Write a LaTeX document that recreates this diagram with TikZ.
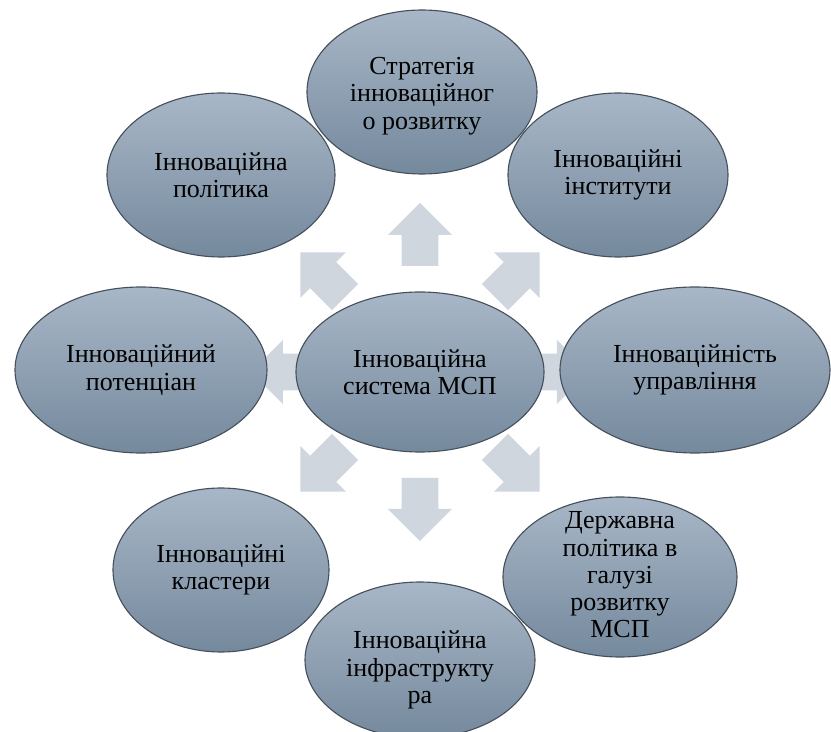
\documentclass[tikz,border=0pt]{standalone}
\usepackage{fontspec}
\setmainfont{Liberation Serif}
\usepackage{tikz}
\usetikzlibrary{shapes.geometric,positioning}
\definecolor{bubbletop}{RGB}{168,183,199}
\definecolor{bubblebot}{RGB}{117,137,157}
\definecolor{bubbleline}{RGB}{70,80,92}
\definecolor{arrowgray}{RGB}{208,214,222}
\tikzset{bubble/.style={ellipse,draw=bubbleline,line width=0.8pt,top color=bubbletop,bottom color=bubblebot,inner sep=0pt}}
\tikzset{lbl/.style={align=center,inner sep=0pt,font=\fontsize{18.5pt}{19.4pt}\selectfont}}
\tikzset{blockarrow/.style={fill=arrowgray}}

\begin{document}
\begin{tikzpicture}
% \draw[help lines] (-10,-9) grid (10,9);
\useasboundingbox (-10.5,9.3) rectangle (10.275,-9.0);
\coordinate (mid) at (0,0);
%
\foreach \a in {0,45,...,315}
  \fill[blockarrow,shift={(mid)},rotate=\a] (2.65,-0.46) -- (3.425,-0.46) -- (3.425,-0.8)
     -- (4.225,0) -- (3.425,0.8) -- (3.425,0.46) -- (2.65,0.46) -- cycle;
%
\node (polit) [bubble,minimum width=5.7cm,minimum height=4.1cm] at (-4.975,4.925) {};
\node (strat) [bubble,minimum width=5.75cm,minimum height=4.1cm] at (0.05,7.0) {};
\node (inst) [bubble,minimum width=5.5cm,minimum height=4.1cm] at (4.95,4.925) {};
\node (uprav) [bubble,minimum width=6.75cm,minimum height=4.15cm] at (6.875,0.05) {};
\node (derzh) [bubble,minimum width=5.85cm,minimum height=4.0cm] at (5.0,-5.125) {};
\node (klast) [bubble,minimum width=5.4cm,minimum height=4.1cm] at (-4.975,-4.95) {};
\node (infra) [bubble,minimum width=5.75cm,minimum height=3.9cm] at (0,-7.2) {};
\node (poten) [bubble,minimum width=6.3cm,minimum height=4.15cm] at (-6.975,0.05) {};
\node (ctr) [bubble,minimum width=6.2cm,minimum height=4.0cm] at (mid) {};
%
\node (t-polit) [lbl] at (polit) {Інноваційна\\політика};
\node (t-strat) [lbl] at ([yshift=-0.1cm]strat.center) {Стратегія\\інноваційног\\о розвитку};
\node (t-inst) [lbl] at (inst) {Інноваційні\\інститути};
\node (t-uprav) [lbl] at (uprav) {Інноваційність\\управління};
\node (t-derzh) [lbl] at ([yshift=0.05cm]derzh.center) {Державна\\політика в\\галузі\\розвитку\\МСП};
\node (t-klast) [lbl] at (klast) {Інноваційні\\кластери};
\node (t-infra) [lbl] at ([yshift=-0.25cm]infra.center) {Інноваційна\\інфраструкту\\ра};
\node (t-poten) [lbl] at (poten) {Інноваційний\\потенціан};
\node (t-ctr) [lbl] at (ctr) {Інноваційна\\система МСП};
%
\end{tikzpicture}
\end{document}
